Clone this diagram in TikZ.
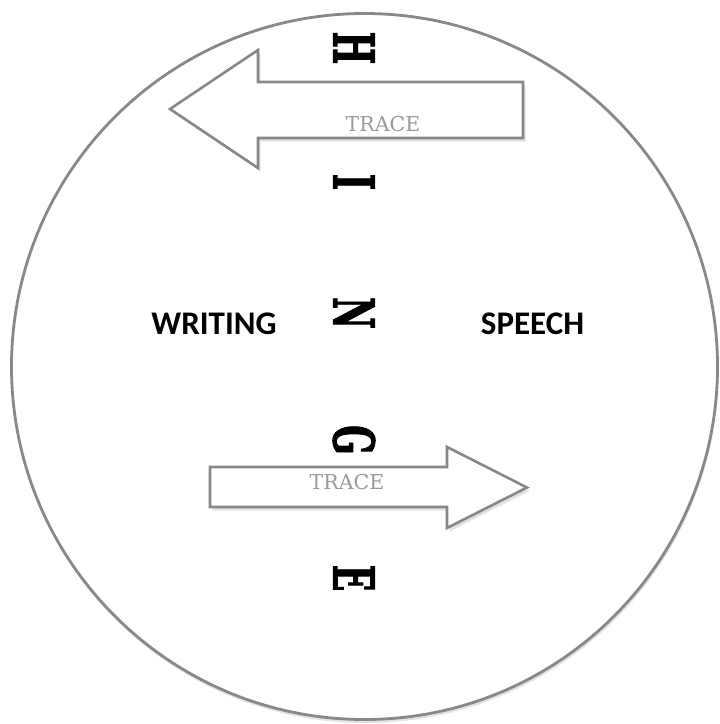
\documentclass[tikz,border=0pt]{standalone}
\usepackage{fontspec}
\usepackage{graphicx}
\usetikzlibrary{shadows}
\newfontfamily\hingefont[FakeBold=2.2]{DejaVu Serif}
\newfontfamily\labelfont{Carlito}
\newfontfamily\tracefont{DejaVu Serif}
\definecolor{rim}{HTML}{888888}
\definecolor{tracegray}{HTML}{9A9A9A}
\begin{document}
\begin{tikzpicture}[x=1pt,y=-1pt,
  hingeletter/.style={rotate=-90, inner sep=0pt, font=\hingefont\bfseries\fontsize{56}{56}\selectfont},
  sidelabel/.style={inner sep=0pt, font=\labelfont\bfseries\fontsize{33}{33}\selectfont},
  tracelabel/.style={inner sep=0pt, text=tracegray, font=\tracefont\fontsize{20.5}{20.5}\selectfont},
  arrowshape/.style={draw=rim, line width=2.6pt, fill=white, line join=miter,
     drop shadow={opacity=0.22, shadow xshift=2.5pt, shadow yshift=-3.5pt}},
  rimcircle/.style={draw=rim, line width=2.8pt, fill=white,
     drop shadow={opacity=0.22, shadow xshift=1pt, shadow yshift=-3.5pt}}]
\useasboundingbox[fill=white] (0,0) rectangle (720,724);
% circle
\node[rimcircle, circle, minimum size=706pt, inner sep=0pt] (disk) at (364.5,366.5) {};
% top arrow (pointing left)
\draw[arrowshape] (523,82) -- (258,82) -- (258,50) -- (170,109) -- (258,168) -- (258,138) -- (523,138) -- cycle;
% bottom arrow (pointing right)
\draw[arrowshape] (210,467) -- (447,467) -- (447,447) -- (527,487.5) -- (447,528) -- (447,507) -- (210,507) -- cycle;
% trace labels
\node[tracelabel] (trace1) at (383,124) {TRACE};
\node[tracelabel] (trace2) at (347,482) {TRACE};
% side labels
\node[sidelabel] (writing) at (214,324) {WRITING};
\node[sidelabel] (speech) at (532.5,324) {SPEECH};
% HINGE
\node[hingeletter] (lh) at (354,48) {\scalebox{0.62}[1]{H}};
\node[hingeletter] (li) at (354,182) {\scalebox{0.62}[1]{I}};
\node[hingeletter] (ln) at (354,313) {\scalebox{0.62}[1]{N}};
\node[hingeletter] (lg) at (354,440) {\scalebox{0.62}[1]{G}};
\node[hingeletter] (le) at (354,578) {\scalebox{0.62}[1]{E}};
\end{tikzpicture}
\end{document}
